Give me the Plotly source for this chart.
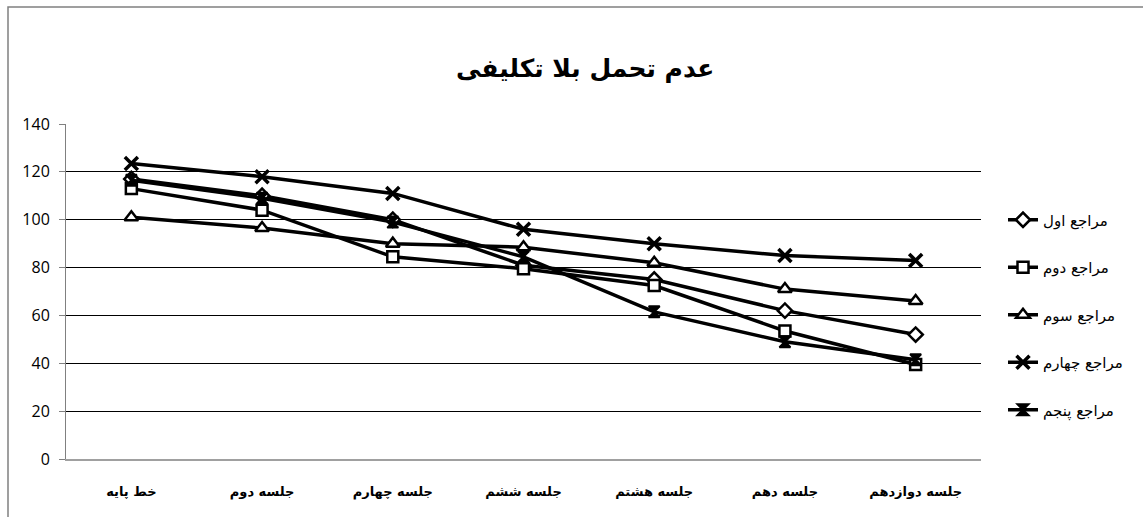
import plotly.graph_objects as go

categories = ["خط پایه", "جلسه دوم", "جلسه چهارم", "جلسه ششم", "جلسه هشتم", "جلسه دهم", "جلسه دوازدهم"]
series_names = ["مراجع اول", "مراجع دوم", "مراجع سوم", "مراجع چهارم", "مراجع پنجم"]
s1 = [117, 110, 100, 81, 75, 62, 52]
s2 = [113, 104, 84.5, 79.5, 72.5, 53.5, 39.5]
s3 = [101, 96.5, 90, 88.5, 82, 71, 66]
s4 = [123.5, 118, 111, 96, 90, 85, 83]
s5 = [116.5, 109, 99, 84.5, 61.5, 49, 41.5]
title_text = "عدم تحمل بلا تکلیفی"

W, H = 1143, 517
L, R, T, B = 66, 162, 124, 58
pw, ph = W - L - R, H - T - B

styles = [
    dict(symbol="diamond", size=11, color="white", line=dict(color="black", width=2.5)),
    dict(symbol="square", size=11, color="white", line=dict(color="black", width=2.5)),
    dict(symbol="triangle-up", size=12, color="white", line=dict(color="black", width=2.5)),
    dict(symbol="x-thin-open", size=13, color="black", line=dict(color="black", width=3.5)),
    dict(symbol="hourglass", size=11, color="black", line=dict(color="black", width=2)),
]

fig = go.Figure()
for i, (name, vals) in enumerate(zip(series_names, [s1, s2, s3, s4, s5])):
    fig.add_trace(go.Scatter(
        x=categories, y=vals, name=name, mode="lines+markers",
        line=dict(color="black", width=3.5),
        marker=styles[i], legendgroup=f"g{i}",
    ))

def px2paper_x(px):
    return (px - L) / pw

def px2paper_y(py):
    return (H - B - py) / ph

fig.add_shape(type="rect", xref="paper", yref="paper",
              x0=px2paper_x(8), x1=px2paper_x(1150), y0=px2paper_y(525), y1=px2paper_y(7),
              line=dict(color="#808080", width=1.5), fillcolor="rgba(0,0,0,0)", layer="below")

fig.update_layout(
    width=W, height=H,
    margin=dict(l=L, r=R, t=T, b=B, autoexpand=False),
    paper_bgcolor="white", plot_bgcolor="white",
    title=dict(text=title_text, x=0.512, xanchor="center", y=0.868, yanchor="middle",
               font=dict(family="DejaVu Sans", size=25, color="black", weight="bold")),
    xaxis=dict(type="category", showgrid=False, showline=True, linecolor="#a0a0a0", linewidth=1.5,
               ticks="", tickfont=dict(family="DejaVu Sans", size=13, color="black", weight="bold"),
               range=[-0.5, 6.5], fixedrange=True, automargin=False, ticklabelstandoff=20),
    yaxis=dict(range=[0, 140], dtick=20, showgrid=True, gridcolor="black", gridwidth=1,
               showline=True, linecolor="#808080", linewidth=1, ticks="outside", ticklen=6,
               tickcolor="#808080", zeroline=False, automargin=False, ticklabelstandoff=6,
               tickfont=dict(family="Open Sans", size=16, color="black")),
    legend=dict(x=px2paper_x(1003), xanchor="left", y=px2paper_y(315), yanchor="middle",
                traceorder="grouped", tracegroupgap=25,
                font=dict(family="DejaVu Sans", size=15, color="black"),
                bgcolor="rgba(0,0,0,0)", itemwidth=30),
    showlegend=True,
)

fig.write_html("out.html", config={"displayModeBar": False},
               post_script="document.body.style.margin='0';document.body.style.overflow='hidden';")
